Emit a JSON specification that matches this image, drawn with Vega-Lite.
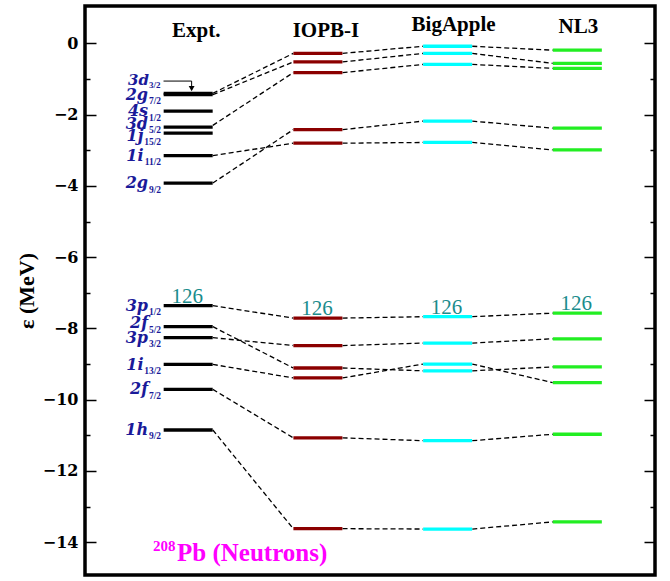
{
  "$schema": "https://vega.github.io/schema/vega-lite/v6.json",
  "width": 570,
  "height": 569,
  "autosize": "none",
  "padding": {"left": 85, "top": 6, "right": 15, "bottom": 6},
  "background": "white",
  "config": {"view": {"stroke": "black", "strokeWidth": 3.5}, "font": "Liberation Serif"},
  "datasets": {
    "levels": [
      {"model": "Expt.", "e": -1.40, "st": "3d", "j": "3/2"},
      {"model": "Expt.", "e": -1.44, "st": "2g", "j": "7/2"},
      {"model": "Expt.", "e": -1.90, "st": "4s", "j": "1/2"},
      {"model": "Expt.", "e": -2.35, "st": "3d", "j": "5/2"},
      {"model": "Expt.", "e": -2.52, "st": "1j", "j": "15/2"},
      {"model": "Expt.", "e": -3.15, "st": "1i", "j": "11/2"},
      {"model": "Expt.", "e": -3.92, "st": "2g", "j": "9/2"},
      {"model": "Expt.", "e": -7.36, "st": "3p", "j": "1/2", "magic": "126"},
      {"model": "Expt.", "e": -7.95, "st": "2f", "j": "5/2"},
      {"model": "Expt.", "e": -8.26, "st": "3p", "j": "3/2"},
      {"model": "Expt.", "e": -9.01, "st": "1i", "j": "13/2"},
      {"model": "Expt.", "e": -9.71, "st": "2f", "j": "7/2"},
      {"model": "Expt.", "e": -10.85, "st": "1h", "j": "9/2"},
      {"model": "IOPB-I", "e": -0.28},
      {"model": "IOPB-I", "e": -0.52},
      {"model": "IOPB-I", "e": -0.82},
      {"model": "IOPB-I", "e": -2.42},
      {"model": "IOPB-I", "e": -2.80},
      {"model": "IOPB-I", "e": -7.71, "magic": "126"},
      {"model": "IOPB-I", "e": -8.48},
      {"model": "IOPB-I", "e": -9.11},
      {"model": "IOPB-I", "e": -9.39},
      {"model": "IOPB-I", "e": -11.07},
      {"model": "IOPB-I", "e": -13.62},
      {"model": "BigApple", "e": -0.08},
      {"model": "BigApple", "e": -0.28},
      {"model": "BigApple", "e": -0.59},
      {"model": "BigApple", "e": -2.18},
      {"model": "BigApple", "e": -2.78},
      {"model": "BigApple", "e": -7.67, "magic": "126"},
      {"model": "BigApple", "e": -8.41},
      {"model": "BigApple", "e": -9.00},
      {"model": "BigApple", "e": -9.19},
      {"model": "BigApple", "e": -11.15},
      {"model": "BigApple", "e": -13.63},
      {"model": "NL3", "e": -0.19},
      {"model": "NL3", "e": -0.56},
      {"model": "NL3", "e": -0.70},
      {"model": "NL3", "e": -2.38},
      {"model": "NL3", "e": -2.99},
      {"model": "NL3", "e": -7.57, "magic": "126"},
      {"model": "NL3", "e": -8.29},
      {"model": "NL3", "e": -9.08},
      {"model": "NL3", "e": -9.52},
      {"model": "NL3", "e": -10.97},
      {"model": "NL3", "e": -13.43}
    ],
    "links": [
      {"from": "Expt.", "to": "IOPB-I", "e1": -1.40, "e2": -0.28},
      {"from": "Expt.", "to": "IOPB-I", "e1": -1.44, "e2": -0.52},
      {"from": "Expt.", "to": "IOPB-I", "e1": -2.30, "e2": -0.82},
      {"from": "Expt.", "to": "IOPB-I", "e1": -3.15, "e2": -2.80},
      {"from": "Expt.", "to": "IOPB-I", "e1": -3.92, "e2": -2.42},
      {"from": "Expt.", "to": "IOPB-I", "e1": -7.36, "e2": -7.71},
      {"from": "Expt.", "to": "IOPB-I", "e1": -7.95, "e2": -9.11},
      {"from": "Expt.", "to": "IOPB-I", "e1": -8.26, "e2": -8.48},
      {"from": "Expt.", "to": "IOPB-I", "e1": -9.01, "e2": -9.39},
      {"from": "Expt.", "to": "IOPB-I", "e1": -9.71, "e2": -11.07},
      {"from": "Expt.", "to": "IOPB-I", "e1": -10.85, "e2": -13.62},
      {"from": "IOPB-I", "to": "BigApple", "e1": -0.28, "e2": -0.08},
      {"from": "IOPB-I", "to": "BigApple", "e1": -0.52, "e2": -0.28},
      {"from": "IOPB-I", "to": "BigApple", "e1": -0.82, "e2": -0.59},
      {"from": "IOPB-I", "to": "BigApple", "e1": -2.42, "e2": -2.18},
      {"from": "IOPB-I", "to": "BigApple", "e1": -2.80, "e2": -2.78},
      {"from": "IOPB-I", "to": "BigApple", "e1": -7.71, "e2": -7.67},
      {"from": "IOPB-I", "to": "BigApple", "e1": -8.48, "e2": -8.41},
      {"from": "IOPB-I", "to": "BigApple", "e1": -9.11, "e2": -9.19},
      {"from": "IOPB-I", "to": "BigApple", "e1": -9.39, "e2": -9.00},
      {"from": "IOPB-I", "to": "BigApple", "e1": -11.07, "e2": -11.15},
      {"from": "IOPB-I", "to": "BigApple", "e1": -13.62, "e2": -13.63},
      {"from": "BigApple", "to": "NL3", "e1": -0.08, "e2": -0.19},
      {"from": "BigApple", "to": "NL3", "e1": -0.28, "e2": -0.56},
      {"from": "BigApple", "to": "NL3", "e1": -0.59, "e2": -0.70},
      {"from": "BigApple", "to": "NL3", "e1": -2.18, "e2": -2.38},
      {"from": "BigApple", "to": "NL3", "e1": -2.78, "e2": -2.99},
      {"from": "BigApple", "to": "NL3", "e1": -7.67, "e2": -7.57},
      {"from": "BigApple", "to": "NL3", "e1": -8.41, "e2": -8.29},
      {"from": "BigApple", "to": "NL3", "e1": -9.00, "e2": -9.52},
      {"from": "BigApple", "to": "NL3", "e1": -9.19, "e2": -9.08},
      {"from": "BigApple", "to": "NL3", "e1": -11.15, "e2": -10.97},
      {"from": "BigApple", "to": "NL3", "e1": -13.63, "e2": -13.43}
    ],
    "models": [
      {"model": "Expt."}, {"model": "IOPB-I"}, {"model": "BigApple"}, {"model": "NL3"}
    ]
  },
  "resolve": {"axis": {"y": "independent"}},
  "layer": [
    {
      "data": {"name": "links"},
      "mark": {"type": "rule", "strokeDash": [5, 3], "strokeWidth": 1.3, "color": "black"},
      "encoding": {
        "x": {"field": "from", "type": "nominal", "bandPosition": 1, "title": null,
          "scale": {"type": "band", "domain": ["Expt.", "IOPB-I", "BigApple", "NL3"], "paddingInner": 0.62, "paddingOuter": 0.507, "align": 0.597},
          "axis": null},
        "x2": {"field": "to", "bandPosition": 0},
        "y": {"field": "e1", "type": "quantitative", "title": null,
          "scale": {"domain": [-14.92, 1.05], "nice": false, "zero": false},
          "axis": {"orient": "right", "labels": false, "title": null, "domain": false, "grid": false,
            "values": [-14, -13, -12, -11, -10, -9, -8, -7, -6, -5, -4, -3, -2, -1, 0],
            "tickColor": "black", "tickWidth": 1.5,
            "tickSize": {"condition": {"test": "datum.value % 2 === 0", "value": -11}, "value": -5}}},
        "y2": {"field": "e2"}
      }
    },
    {
      "data": {"name": "levels"},
      "mark": {"type": "tick", "size": 49, "thickness": 3.3, "opacity": 1},
      "encoding": {
        "x": {"field": "model", "type": "nominal", "title": null, "axis": null},
        "y": {"field": "e", "type": "quantitative", "title": "ε (MeV)",
          "axis": {"orient": "left", "domain": false, "grid": false,
            "values": [-14, -13, -12, -11, -10, -9, -8, -7, -6, -5, -4, -3, -2, -1, 0],
            "labelExpr": "datum.value % 2 === 0 ? datum.label : ''",
            "tickColor": "black", "tickWidth": 1.5,
            "tickSize": {"condition": {"test": "datum.value % 2 === 0", "value": -11}, "value": -5},
            "labelFont": "DejaVu Serif", "labelFontWeight": "bold", "labelFontSize": 16, "labelColor": "black",
            "labelPadding": 18,
            "titleFont": "Liberation Serif", "titleFontSize": 22, "titleFontWeight": "bold", "titleColor": "black",
            "titleX": -59, "titleBaseline": "middle"}},
        "color": {"field": "model", "type": "nominal", "legend": null,
          "scale": {"domain": ["Expt.", "IOPB-I", "BigApple", "NL3"], "range": ["#000000", "#8b0000", "#00ffff", "#22ee22"]}}
      }
    },
    {
      "data": {"name": "models"},
      "transform": [{"filter": "datum.model === 'Expt.' || datum.model === 'IOPB-I'"}],
      "mark": {"type": "text", "align": "center", "baseline": "alphabetic", "dx": 8, "font": "Liberation Serif", "fontWeight": "bold", "fontSize": 21, "color": "black"},
      "encoding": {
        "x": {"field": "model", "type": "nominal", "bandPosition": 0.5, "axis": null},
        "y": {"datum": 0.18, "type": "quantitative", "axis": null},
        "text": {"field": "model"}
      }
    },
    {
      "data": {"name": "models"},
      "transform": [{"filter": "datum.model === 'BigApple'"}],
      "mark": {"type": "text", "align": "center", "baseline": "alphabetic", "dx": 6, "font": "Liberation Serif", "fontWeight": "bold", "fontSize": 21, "color": "black"},
      "encoding": {
        "x": {"field": "model", "type": "nominal", "bandPosition": 0.5, "axis": null},
        "y": {"datum": 0.35, "type": "quantitative", "axis": null},
        "text": {"field": "model"}
      }
    },
    {
      "data": {"name": "models"},
      "transform": [{"filter": "datum.model === 'NL3'"}],
      "mark": {"type": "text", "align": "center", "baseline": "alphabetic", "dx": 1, "font": "Liberation Serif", "fontWeight": "bold", "fontSize": 21, "color": "black"},
      "encoding": {
        "x": {"field": "model", "type": "nominal", "bandPosition": 0.5, "axis": null},
        "y": {"datum": 0.28, "type": "quantitative", "axis": null},
        "text": {"field": "model"}
      }
    },
    {
      "data": {"name": "levels"},
      "transform": [{"filter": "datum.model === 'Expt.' && length(datum.j) === 3 && !(datum.st === '3d') && !(datum.st === '2f' && datum.j === '5/2')"}],
      "mark": {"type": "text", "align": "right", "baseline": "alphabetic", "dx": -15.5, "dy": 5, "font": "DejaVu Serif", "fontWeight": "bold", "fontStyle": "italic", "fontSize": 16, "color": "#1a1a99"},
      "encoding": {
        "x": {"field": "model", "type": "nominal", "bandPosition": 0, "axis": null},
        "y": {"field": "e", "type": "quantitative", "axis": null},
        "text": {"field": "st"}
      }
    },
    {
      "data": {"name": "levels"},
      "transform": [{"filter": "datum.model === 'Expt.' && ((datum.st === '3d' && datum.j === '5/2') || (datum.st === '2f' && datum.j === '5/2'))"}],
      "mark": {"type": "text", "align": "right", "baseline": "alphabetic", "dx": -15.5, "dy": 1.5, "font": "DejaVu Serif", "fontWeight": "bold", "fontStyle": "italic", "fontSize": 16, "color": "#1a1a99"},
      "encoding": {
        "x": {"field": "model", "type": "nominal", "bandPosition": 0, "axis": null},
        "y": {"field": "e", "type": "quantitative", "axis": null},
        "text": {"field": "st"}
      }
    },
    {
      "data": {"name": "levels"},
      "transform": [{"filter": "datum.model === 'Expt.' && length(datum.j) === 4 && datum.st !== '1j'"}],
      "mark": {"type": "text", "align": "right", "baseline": "alphabetic", "dx": -20, "dy": 5.5, "font": "DejaVu Serif", "fontWeight": "bold", "fontStyle": "italic", "fontSize": 16, "color": "#1a1a99"},
      "encoding": {
        "x": {"field": "model", "type": "nominal", "bandPosition": 0, "axis": null},
        "y": {"field": "e", "type": "quantitative", "axis": null},
        "text": {"field": "st"}
      }
    },
    {
      "data": {"name": "levels"},
      "transform": [{"filter": "datum.model === 'Expt.' && datum.st === '1j'"}],
      "mark": {"type": "text", "align": "right", "baseline": "alphabetic", "dx": -20, "dy": 7.5, "font": "DejaVu Serif", "fontWeight": "bold", "fontStyle": "italic", "fontSize": 16, "color": "#1a1a99"},
      "encoding": {
        "x": {"field": "model", "type": "nominal", "bandPosition": 0, "axis": null},
        "y": {"field": "e", "type": "quantitative", "axis": null},
        "text": {"field": "st"}
      }
    },
    {
      "data": {"name": "levels"},
      "transform": [{"filter": "datum.model === 'Expt.' && !(datum.st === '3d') && !(datum.st === '2f' && datum.j === '5/2') && datum.st !== '1j'"}],
      "mark": {"type": "text", "align": "right", "baseline": "alphabetic", "dx": -2.5, "dy": 9.5, "font": "Liberation Serif", "fontWeight": "bold", "fontSize": 9.5, "color": "#1a1a99"},
      "encoding": {
        "x": {"field": "model", "type": "nominal", "bandPosition": 0, "axis": null},
        "y": {"field": "e", "type": "quantitative", "axis": null},
        "text": {"field": "j"}
      }
    },
    {
      "data": {"name": "levels"},
      "transform": [{"filter": "datum.model === 'Expt.' && datum.st === '1j'"}],
      "mark": {"type": "text", "align": "right", "baseline": "alphabetic", "dx": -2.5, "dy": 12, "font": "Liberation Serif", "fontWeight": "bold", "fontSize": 9.5, "color": "#1a1a99"},
      "encoding": {
        "x": {"field": "model", "type": "nominal", "bandPosition": 0, "axis": null},
        "y": {"field": "e", "type": "quantitative", "axis": null},
        "text": {"field": "j"}
      }
    },
    {
      "data": {"name": "levels"},
      "transform": [{"filter": "datum.model === 'Expt.' && ((datum.st === '3d' && datum.j === '5/2') || (datum.st === '2f' && datum.j === '5/2'))"}],
      "mark": {"type": "text", "align": "right", "baseline": "alphabetic", "dx": -2.5, "dy": 6, "font": "Liberation Serif", "fontWeight": "bold", "fontSize": 9.5, "color": "#1a1a99"},
      "encoding": {
        "x": {"field": "model", "type": "nominal", "bandPosition": 0, "axis": null},
        "y": {"field": "e", "type": "quantitative", "axis": null},
        "text": {"field": "j"}
      }
    },
    {
      "data": {"name": "levels"},
      "transform": [{"filter": "datum.st === '3d' && datum.j === '3/2'"}],
      "mark": {"type": "text", "align": "right", "baseline": "alphabetic", "dx": -14.5, "dy": -8.5, "font": "DejaVu Serif", "fontWeight": "bold", "fontStyle": "italic", "fontSize": 15, "color": "#1a1a99"},
      "encoding": {
        "x": {"field": "model", "type": "nominal", "bandPosition": 0, "axis": null},
        "y": {"field": "e", "type": "quantitative", "axis": null},
        "text": {"field": "st"}
      }
    },
    {
      "data": {"name": "levels"},
      "transform": [{"filter": "datum.st === '3d' && datum.j === '3/2'"}],
      "mark": {"type": "text", "align": "right", "baseline": "alphabetic", "dx": -3, "dy": -5, "font": "Liberation Serif", "fontWeight": "bold", "fontSize": 9, "color": "#1a1a99"},
      "encoding": {
        "x": {"field": "model", "type": "nominal", "bandPosition": 0, "axis": null},
        "y": {"field": "e", "type": "quantitative", "axis": null},
        "text": {"field": "j"}
      }
    },
    {
      "data": {"name": "levels"},
      "transform": [{"filter": "datum.magic"}],
      "mark": {"type": "text", "align": "center", "baseline": "alphabetic", "dx": -1, "dy": -3, "font": "Liberation Serif", "fontSize": 21, "color": "#1a8c8c"},
      "encoding": {
        "x": {"field": "model", "type": "nominal", "bandPosition": 0.5, "axis": null},
        "y": {"field": "e", "type": "quantitative", "axis": null},
        "text": {"field": "magic"}
      }
    },
    {
      "data": {"values": [{}]},
      "mark": {"type": "rule", "color": "black", "strokeWidth": 1},
      "encoding": {
        "x": {"datum": "Expt.", "type": "nominal", "bandPosition": 0, "axis": null},
        "x2": {"datum": "Expt.", "bandPosition": 0.57},
        "y": {"datum": -1.057, "type": "quantitative", "axis": null}
      }
    },
    {
      "data": {"values": [{}]},
      "mark": {"type": "rule", "color": "black", "strokeWidth": 1},
      "encoding": {
        "x": {"datum": "Expt.", "type": "nominal", "bandPosition": 0.57, "axis": null},
        "y": {"datum": -1.057, "type": "quantitative", "axis": null},
        "y2": {"datum": -1.30}
      }
    },
    {
      "data": {"values": [{}]},
      "mark": {"type": "point", "shape": "triangle-down", "filled": true, "color": "black", "size": 35, "opacity": 1},
      "encoding": {
        "x": {"datum": "Expt.", "type": "nominal", "bandPosition": 0.57, "axis": null},
        "y": {"datum": -1.27, "type": "quantitative", "axis": null}
      }
    },
    {
      "data": {"values": [{}]},
      "mark": {"type": "text", "align": "left", "baseline": "alphabetic", "dx": 13.5, "font": "Liberation Serif", "fontWeight": "bold", "fontSize": 25, "color": "#ff00ff", "text": "Pb (Neutrons)"},
      "encoding": {
        "x": {"datum": "Expt.", "type": "nominal", "bandPosition": 0, "axis": null},
        "y": {"datum": -14.53, "type": "quantitative", "axis": null}
      }
    },
    {
      "data": {"values": [{}]},
      "mark": {"type": "text", "align": "right", "baseline": "alphabetic", "dx": 12, "dy": -10.5, "font": "Liberation Serif", "fontWeight": "bold", "fontSize": 15, "color": "#ff00ff", "text": "208"},
      "encoding": {
        "x": {"datum": "Expt.", "type": "nominal", "bandPosition": 0, "axis": null},
        "y": {"datum": -14.53, "type": "quantitative", "axis": null}
      }
    }
  ]
}
